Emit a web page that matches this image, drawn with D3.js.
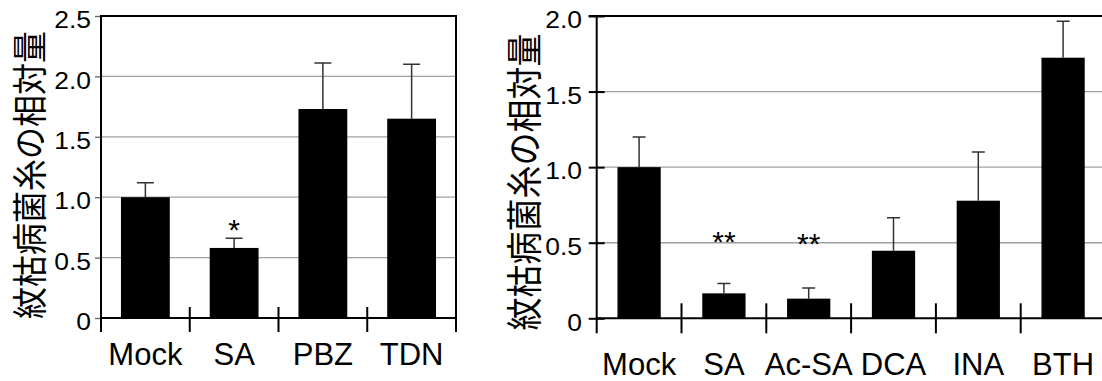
<!DOCTYPE html>
<html>
<head>
<meta charset="utf-8">
<script src="https://cdn.jsdelivr.net/npm/d3@7"></script>
<style>
  body { margin: 0; background: #fff; }
  svg { display: block; }
  text { font-family: "Liberation Sans", Arial, sans-serif; fill: #000; }
  .ylab { font-family: "Noto Sans CJK JP", sans-serif; }
</style>
</head>
<body>
<svg></svg>
<script>
// left panel
let leftCats = ["Mock", "SA", "PBZ", "TDN"]
let leftValues = [1.0, 0.58, 1.73, 1.65]
let leftErrors = [0.12, 0.08, 0.38, 0.45]
let leftSig = ["", "*", "", ""]
let leftSigAt = [0, 0.79, 0, 0]
let leftTicks = [0, 0.5, 1.0, 1.5, 2.0, 2.5]
let leftTickLabels = ["0", "0.5", "1.0", "1.5", "2.0", "2.5"]

// right panel
let rightCats = ["Mock", "SA", "Ac-SA", "DCA", "INA", "BTH"]
let rightValues = [1.0, 0.165, 0.13, 0.447, 0.778, 1.724]
let rightErrors = [0.20, 0.065, 0.07, 0.218, 0.322, 0.242]
let rightSig = ["", "**", "**", "", "", ""]
let rightSigAt = [0, 0.55, 0.54, 0, 0, 0]
let rightTicks = [0, 0.5, 1.0, 1.5, 2.0]
let rightTickLabels = ["0", "0.5", "1.0", "1.5", "2.0"]

let yTitle = "紋枯病菌糸の相対量"

let width = 1102
let height = 381

let svg = d3.select('svg')
    .attr("width", width)
    .attr("height", height)

let drawPanel = (o) => {
    let g = svg.append("g")
    let data = o.cats.map((c, i) => ({cat: c, v: o.values[i], e: o.errors[i], sig: o.sig[i], sigAt: o.sigAt[i]}))

    let x = d3.scaleBand()
        .domain(o.cats)
        .range([o.left, o.right])
        .paddingInner(o.pad)
        .paddingOuter(o.pad / 2)
    let step = x.step()

    let y = d3.scaleLinear()
        .domain([0, o.ticks[o.ticks.length - 1]])
        .range([o.bottom, o.top])

    // grid
    g.selectAll(".grid")
        .data(o.ticks.slice(1, -1))
        .enter()
        .append("line")
        .attr("x1", o.left)
        .attr("x2", Math.min(o.right, width))
        .attr("y1", d => y(d))
        .attr("y2", d => y(d))
        .attr("stroke", "#a0a0a0")
        .attr("stroke-width", 1.3)

    // y axis
    let yAxis = d3.axisLeft(y)
        .tickValues(o.ticks)
        .tickFormat((d, i) => o.tickLabels[i])
        .tickSize(o.tickOut)
        .tickSizeOuter(0)
    let ya = g.append("g")
        .attr("transform", "translate(" + o.left + ",0)")
        .call(yAxis)
    ya.select(".domain").remove()
    ya.selectAll(".tick line")
        .attr("x1", o.tickIn)
        .attr("stroke", o.tickColor)
        .attr("stroke-width", o.tickWidth)
    ya.selectAll(".tick text")
        .attr("x", null)
        .attr("dy", "0.48em")
        .attr("transform", "translate(" + (-o.labelGap) + ",0) scale(1.08,1)")
        .style("font-size", "24.5px")
        .style("font-family", "'Liberation Sans', Arial, sans-serif")
        .style("fill", "#000")

    // bars
    g.selectAll(".bar")
        .data(data)
        .enter()
        .append("rect")
        .attr("x", d => x(d.cat))
        .attr("width", x.bandwidth())
        .attr("y", d => y(d.v))
        .attr("height", d => y(0) - y(d.v))
        .attr("fill", "#000")

    // error bars
    g.selectAll(".err")
        .data(data)
        .enter()
        .append("path")
        .attr("d", d => {
            let cx = x(d.cat) + x.bandwidth() / 2
            let yt = y(d.v + d.e)
            return "M" + cx + "," + y(d.v) + "V" + yt + "M" + (cx - o.cap / 2) + "," + yt + "H" + (cx + o.cap / 2)
        })
        .attr("stroke", "#333")
        .attr("stroke-width", 1.5)
        .attr("fill", "none")

    // significance
    g.selectAll(".sig")
        .data(data.filter(d => d.sig))
        .enter()
        .append("text")
        .attr("x", d => x(d.cat) + x.bandwidth() / 2)
        .attr("y", d => y(d.sigAt) + 17)
        .attr("text-anchor", "middle")
        .style("font-size", "30px")
        .text(d => d.sig)

    // frame lines
    g.append("line")
        .attr("x1", o.left - o.topOverhang).attr("x2", Math.min(o.right, width) + 1)
        .attr("y1", o.top).attr("y2", o.top)
        .attr("stroke", "#000").attr("stroke-width", 2)
    g.append("line")
        .attr("x1", o.left).attr("x2", Math.min(o.right, width))
        .attr("y1", o.bottom).attr("y2", o.bottom)
        .attr("stroke", "#000").attr("stroke-width", 2)
    g.append("line")
        .attr("x1", o.left).attr("x2", o.left)
        .attr("y1", o.top - 1).attr("y2", o.bottom + o.catDown)
        .attr("stroke", "#000").attr("stroke-width", 2)
    if (o.rightBorder) {
        g.append("line")
            .attr("x1", o.right).attr("x2", o.right)
            .attr("y1", o.top - 1).attr("y2", o.bottom + o.catDown)
            .attr("stroke", "#000").attr("stroke-width", 2)
    }

    // category separators
    let bounds = o.cats.slice(1).map(c => x(c) - step * o.pad / 2)
    g.selectAll(".sep")
        .data(bounds)
        .enter()
        .append("line")
        .attr("x1", d => d).attr("x2", d => d)
        .attr("y1", o.bottom - o.catUp).attr("y2", o.bottom + o.catDown)
        .attr("stroke", "#000").attr("stroke-width", 2)

    // category labels
    let xAxis = d3.axisBottom(x).tickSize(0).tickSizeOuter(0)
    let xa = g.append("g")
        .attr("transform", "translate(0," + o.bottom + ")")
        .call(xAxis)
    xa.select(".domain").remove()
    xa.selectAll(".tick text")
        .attr("y", o.labelBase)
        .attr("dy", null)
        .style("font-size", "31px")
        .style("font-family", "'Liberation Sans', Arial, sans-serif")
        .style("fill", "#000")

    // y title
    g.append("text")
        .attr("class", "ylab")
        .attr("transform", "translate(" + o.titleX + "," + o.titleY + ") scale(1.1,1) rotate(-90)")
        .attr("text-anchor", "middle")
        .attr("dominant-baseline", "central")
        .style("font-size", o.titleSize + "px")
        .text(yTitle)
}

drawPanel({
    cats: leftCats, values: leftValues, errors: leftErrors, sig: leftSig, sigAt: leftSigAt,
    ticks: leftTicks, tickLabels: leftTickLabels,
    left: 101, right: 456, top: 16, bottom: 318,
    pad: 0.45, cap: 17,
    tickOut: 6, tickIn: 0, tickColor: "#666", tickWidth: 1.3, labelGap: 10,
    topOverhang: 0, rightBorder: true, catUp: 11, catDown: 14, labelBase: 47,
    titleX: 28, titleY: 175, titleSize: 32
})

drawPanel({
    cats: rightCats, values: rightValues, errors: rightErrors, sig: rightSig, sigAt: rightSigAt,
    ticks: rightTicks, tickLabels: rightTickLabels,
    left: 596.7, right: 1105.5, top: 16, bottom: 318.3,
    pad: 0.49, cap: 13,
    tickOut: 8, tickIn: 8, tickColor: "#000", tickWidth: 2, labelGap: 14.7,
    topOverhang: 8, rightBorder: false, catUp: 15, catDown: 15, labelBase: 56.7,
    titleX: 522, titleY: 182, titleSize: 33
})
</script>
</body>
</html>
